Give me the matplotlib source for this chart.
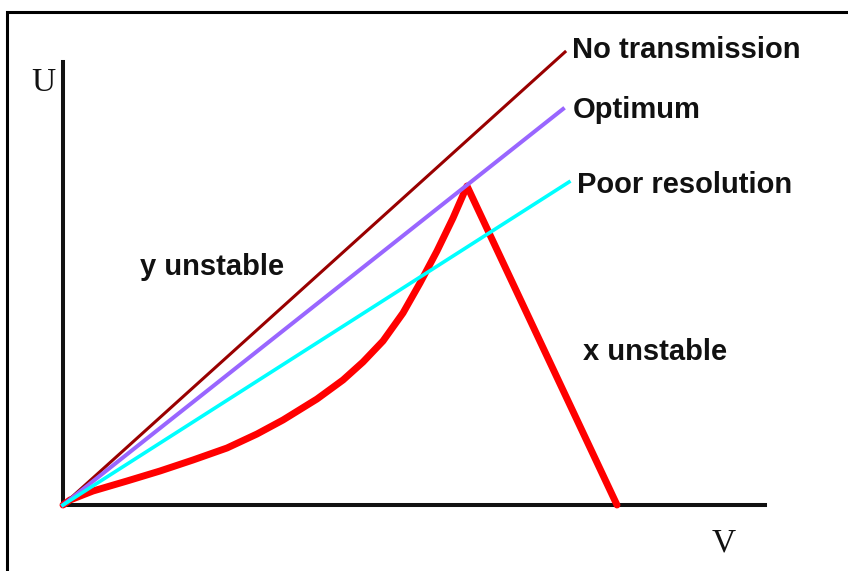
import numpy as np
import matplotlib.pyplot as plt
from matplotlib.patches import Rectangle

# stability diagram in the (V, U) plane, units are arbitrary
line_names = ['No transmission', 'Optimum', 'Poor resolution']
line_ends_v = [502, 500, 506]
line_ends_u = [453, 396, 323]
line_colors = ['#990000', '#9966ff', '#00ffff']

# red stability boundary
edge_v = [0, 7, 30, 64, 97, 130, 164, 194, 220, 254, 280, 300, 320, 340, 357, 374, 390, 404, 554]
edge_u = [0, 5, 14, 24, 34, 45, 57, 71, 85, 106, 125, 143, 164, 192, 222, 254, 287, 319, 0]

fig = plt.figure(figsize=(8.48, 5.71), dpi=100)
ax = fig.add_axes([63/848, 66/571, 702/848, 443/571])
ax.set_xlim(0, 702)
ax.set_ylim(0, 443)
ax.patch.set_alpha(0)

# red boundary first, straight lines over it
ax.plot(edge_v, edge_u, color='#ff0000', lw=5, clip_on=False,
        solid_joinstyle='round', solid_capstyle='round', zorder=2)
widths = [2.2, 2.9, 2.6]
for name, v, u, c, w in zip(line_names, line_ends_v, line_ends_u, line_colors, widths):
    ax.plot([0, v], [0, u], color=c, lw=w, clip_on=False, zorder=3)

lab = dict(fontsize=21, fontweight='bold', family='Liberation Sans',
           va='center', ha='left', color='#111111')
ax.text(509, 455, 'No transmission', **lab)
ax.text(510, 395, 'Optimum', **lab)
ax.text(514, 320, 'Poor resolution', **lab)
ax.text(77, 238, 'y unstable', **lab)
ax.text(520, 153, 'x unstable', **lab)

ax.text(-20, 422, 'U', fontsize=24, family='Liberation Serif',
        ha='center', va='center', color='#111111')
ax.text(661, -38, 'V', fontsize=24, family='Liberation Serif',
        ha='center', va='center', color='#111111')

for s in ['top', 'right']:
    ax.spines[s].set_visible(False)
for s in ['left', 'bottom']:
    ax.spines[s].set_linewidth(2.9)
    ax.spines[s].set_color('#111111')
    ax.spines[s].set_zorder(1)
ax.set_xticks([])
ax.set_yticks([])

# outer frame, only left and top edges are inside the picture
fig.patches.append(Rectangle((7/848, -0.1), 1.2, 1.1 - 12/571, transform=fig.transFigure,
                             fill=False, lw=2.2, edgecolor='black'))

fig.savefig('out.png', dpi=100)
